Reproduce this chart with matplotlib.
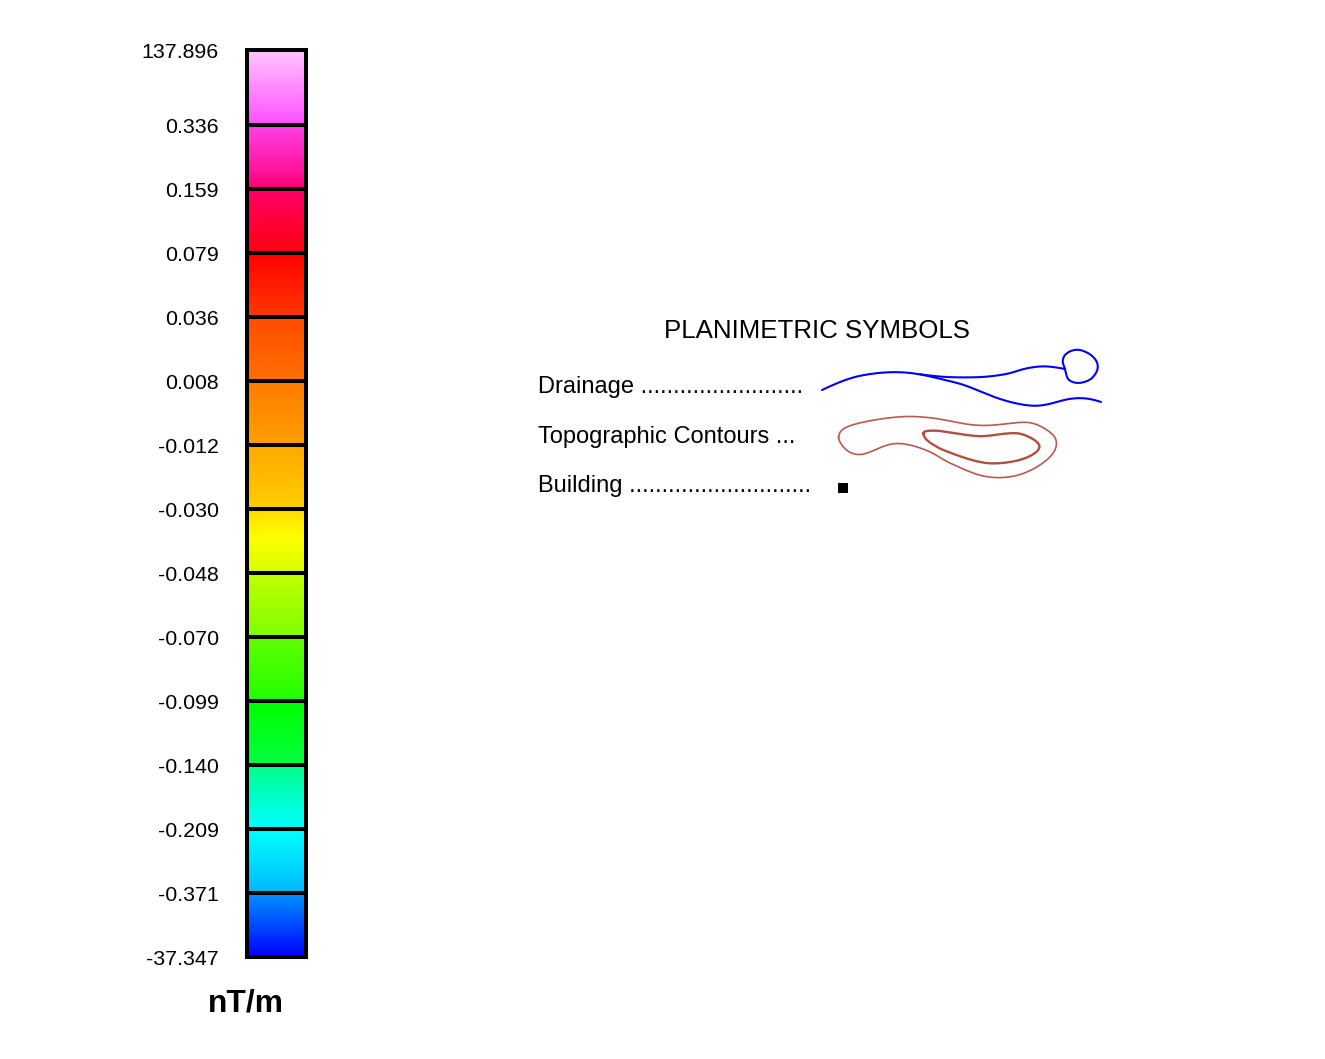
import numpy as np
import matplotlib
matplotlib.use("Agg")
import matplotlib.pyplot as plt
from matplotlib.colors import to_rgb
from matplotlib.transforms import ScaledTranslation

plt.rcParams['font.family'] = ['Liberation Sans', 'DejaVu Sans']

W, H = 1325, 1059
class_labels = ["137.896", "0.336", "0.159", "0.079", "0.036", "0.008", "-0.012", "-0.030",
                "-0.048", "-0.070", "-0.099", "-0.140", "-0.209", "-0.371", "-37.347"]
band_top = ["#ffc4ff", "#ff40e8", "#ff0068", "#ff0000", "#ff4c00", "#ff7c00", "#ffaa00", "#ffdc00",
            "#c0ff00", "#60ff00", "#00ff00", "#00ff88", "#00ffff", "#0090ff"]
band_mid = ["#ff88ff", "#ff20b0", "#ff0038", "#ff0c00", "#ff5e00", "#ff8e00", "#ffbc00", "#ffff00",
            "#a0ff00", "#40ff00", "#00ff20", "#00ffe8", "#00dcff", "#0048ff"]
band_bottom = ["#ff50ff", "#ff0078", "#ff0010", "#ff3800", "#ff7000", "#ffa000", "#ffd000", "#d4ff00",
               "#80ff00", "#20ff00", "#00ff40", "#00ffff", "#00b8ff", "#0000ff"]
unit_label = "nT/m"
legend_title = "PLANIMETRIC SYMBOLS"
legend_rows = ["Drainage .........................", "Topographic Contours ...", "Building ............................"]

drainage_main = [(822,390),(836.7,383.3),(853.3,377.3),(870,374),(886.7,372.3),(903.3,372.3),(920,374.3),(936.7,378),
                 (953.3,382),(965,385.3),(976.7,390),(993.3,396.7),(1010,402),(1026.7,405.3),(1040,405.7),(1053.3,403),
                 (1066.7,399.3),(1080,398),(1091.7,399.3),(1101,402)]
drainage_branch = [(920,374.3),(936.7,376.3),(953.3,377.3),(976.7,377.3),(993.3,376),(1010,373.3),(1023.3,369),
                   (1040,366.3),(1053.3,367),(1065,369)]
drainage_pond = [(1065,369),(1062.7,361.7),(1065,355),(1071.7,350.7),(1080,350),(1090,354.3),(1096.7,361.7),(1097.3,370),
                 (1091.7,378.3),(1083.3,382.3),(1075,382.7),(1068.3,379.3),(1066,373.3),(1065,369)]
contour_outer = [(838.3,436.7),(841.7,430),(851.7,425),(870,420.7),(890,417.7),(910,416.3),(930,417.7),(945,420),(965,424),
                 (985,425.7),(1005,424),(1025,422),(1038.3,425),(1051.7,433.3),(1056.7,441.7),(1054.3,451.7),(1045,461.7),
                 (1028.3,471.7),(1011.7,476.7),(995,477.7),(978.3,475),(961.7,468.3),(945,460.7),(933.3,453.3),(916.7,446.7),
                 (900,443.3),(886.7,445),(873.3,450.7),(860,455),(848.3,451.7),(841,444),(838.3,436.7)]
contour_inner = [(923.3,433.3),(926.7,431),(936.7,430.7),(945,431.7),(961.7,434.3),(981.7,436.3),(1001.7,434),(1018.3,433.3),
                 (1031.7,438.3),(1039.3,445),(1036.7,451.7),(1025,458.3),(1008.3,462.3),(988.3,463.3),(968.3,459),(945,450.7),
                 (936.7,446.7),(926.7,440),(923.3,433.3)]
building_point = (843, 487.5)


def smooth(points, n=12, closed=False, win=13):
    p = np.array(points, float)
    if closed:
        p = np.vstack([p[-2], p, p[1]])
    else:
        p = np.vstack([p[0], p, p[-1]])
    out = []
    for i in range(1, len(p) - 2):
        for t in np.linspace(0, 1, n, endpoint=False):
            out.append(0.5 * (2*p[i] + (p[i+1]-p[i-1])*t + (2*p[i-1]-5*p[i]+4*p[i+1]-p[i+2])*t**2
                              + (3*p[i]-p[i-1]-3*p[i+1]+p[i+2])*t**3))
    out.append(p[-2])
    out = np.array(out)
    # light averaging removes the jitter of hand reading
    kernel = np.ones(win) / win
    h = win // 2
    if closed:
        pad = np.vstack([out[-h-1:-1], out, out[1:h+1]])
    else:
        pad = np.vstack([2*out[0] - out[h:0:-1], out, 2*out[-1] - out[-2:-h-2:-1]])
    res = np.column_stack([np.convolve(pad[:, j], kernel, mode="valid") for j in (0, 1)])
    return res[:, 0], res[:, 1]


fig = plt.figure(figsize=(W / 100, H / 100), dpi=100, facecolor="white")

# legend panel in pixel coordinates
lax = fig.add_axes([0, 0, 1, 1])
lax.set_xlim(0, W)
lax.set_ylim(H, 0)
lax.axis("off")
lax.text(816.8, 331.5, legend_title, fontsize=18.65, ha="center", va="center", color="black")
for label, y in zip(legend_rows, [387, 437.5, 485.7]):
    lax.text(538, y, label, fontsize=17.0, ha="left", va="center", color="black")
lax.plot(*smooth(drainage_main), color="#0000ff", lw=1.5, solid_capstyle="round")
lax.plot(*smooth(drainage_branch), color="#0000ff", lw=1.5, solid_capstyle="round")
lax.plot(*smooth(drainage_pond, win=5), color="#0000ff", lw=1.5, solid_capstyle="round")
lax.plot(*smooth(contour_outer, closed=True), color="#b85a4c", lw=1.2)
lax.plot(*smooth(contour_inner, closed=True, win=7), color="#b0503f", lw=1.7)
lax.scatter(*building_point, marker="s", s=42, color="black", linewidths=0)
lax.text(245.5, 1003.3, unit_label, fontsize=22.9, fontweight="bold", ha="center", va="center")

# colour bar: class index on y, first class drawn slightly taller
n = len(band_top)
edges = np.arange(n + 1, dtype=float)
edges[0] = -11 / 64
top_px, bot_px = 50.3, 957.0
ax = fig.add_axes([246.9 / W, 1 - bot_px / H, (306.2 - 246.9) / W, (bot_px - top_px) / H])
for i in range(n):
    a, m, b = (np.array(to_rgb(c)) for c in (band_top[i], band_mid[i], band_bottom[i]))
    split = 0.45 if i == 7 else 0.2 if i == 3 else 0.75 if i == 11 else 0.5
    k = int(32 * split)
    img = np.vstack([np.linspace(a, m, k, endpoint=False), np.linspace(m, b, 32 - k)])[:, None, :]
    ax.imshow(img, extent=(0, 1, edges[i + 1], edges[i]), aspect="auto", interpolation="nearest", zorder=1)
ax.set_xlim(0, 1)
ax.set_ylim(edges[-1], edges[0])
ax.hlines(edges[1:-1], 0, 1, color="black", lw=2.9, zorder=3)
for s in ax.spines.values():
    s.set_linewidth(2.9)
    s.set_color("black")
ax.set_xticks([])
ax.set_yticks(edges)
ax.set_yticklabels(class_labels, fontsize=15.4)
ax.tick_params(axis="y", length=0, pad=20.2)
shift = ScaledTranslation(0, -0.4 / 100, fig.dpi_scale_trans)
for lab in ax.get_yticklabels():
    lab.set_transform(lab.get_transform() + shift)

fig.savefig("out.png", dpi=100, facecolor="white")
